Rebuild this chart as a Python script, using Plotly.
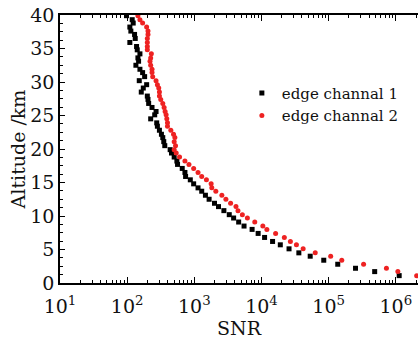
import plotly.graph_objects as go

# Altitude levels (km), top to bottom
altitude_km = [39.9, 39.3, 38.8, 38.2, 37.6, 37.1, 36.5, 35.9, 35.3, 34.8,
               34.2, 33.6, 33.1, 32.5, 31.9, 31.4, 30.8, 30.2, 29.6, 29.1,
               28.5, 27.9, 27.4, 26.8, 26.2, 25.6, 25.1, 24.5, 23.9, 23.4,
               22.8, 22.2, 21.7, 21.1, 20.5, 19.9, 19.4, 18.8, 18.2, 17.7,
               17.1, 16.5, 15.9, 15.4, 14.8, 14.2, 13.7, 13.1, 12.5, 11.9,
               11.4, 10.8, 10.2, 9.7, 9.1, 8.5, 8.0, 7.4, 6.8, 6.2,
               5.7, 5.1, 4.5, 4.0, 3.4, 2.8, 2.2, 1.7, 1.1]

# log10(SNR)
snr1_log10 = [1.99, 2.075, 2.09, 2.04, 2.055, 2.11, 2.12, 2.04, 2.14, 2.15,
              2.19, 2.16, 2.17, 2.13, 2.19, 2.23, 2.26, 2.18, 2.29, 2.24,
              2.21, 2.30, 2.31, 2.32, 2.37, 2.43, 2.41, 2.35, 2.44, 2.45,
              2.48, 2.51, 2.53, 2.545, 2.56, 2.64, 2.66, 2.70, 2.74, 2.75,
              2.82, 2.86, 2.87, 2.94, 2.99, 3.055, 3.11, 3.165, 3.22, 3.30,
              3.36, 3.44, 3.52, 3.585, 3.66, 3.74, 3.86, 3.95, 4.046, 4.165,
              4.28, 4.41, 4.556, 4.725, 4.927, 5.135, 5.40, 5.685, 6.05]

snr2_log10 = [2.16, 2.19, 2.23, 2.29, 2.31, 2.31, 2.30, 2.30, 2.30, 2.30,
              2.36, 2.35, 2.34, 2.35, 2.37, 2.37, 2.38, 2.43, 2.45, 2.47,
              2.48, 2.48, 2.50, 2.53, 2.55, 2.565, 2.58, 2.59, 2.60, 2.60,
              2.65, 2.69, 2.71, 2.70, 2.72, 2.70, 2.73, 2.78, 2.86, 2.92,
              2.99, 3.055, 3.11, 3.18, 3.25, 3.26, 3.32, 3.41, 3.47, 3.54,
              3.62, 3.65, 3.715, 3.79, 3.90, 4.02, 4.08, 4.21, 4.34, 4.43,
              4.52, 4.62, 4.80, 5.03, 5.195, 5.52, 5.86, 6.03, 6.31]

snr_ch1 = [10 ** v for v in snr1_log10]
snr_ch2 = [10 ** v for v in snr2_log10]

series_names = ["edge channal 1", "edge channal 2"]

x_tick_exps = [1, 2, 3, 4, 5, 6]
x_tick_vals = [10 ** e for e in x_tick_exps]
x_tick_text = ["10<sup>%d</sup>" % e for e in x_tick_exps]
y_tick_vals = [0, 5, 10, 15, 20, 25, 30, 35, 40]

FONT = "DejaVu Serif"

fig = go.Figure()
fig.add_trace(go.Scatter(x=snr_ch1, y=altitude_km, mode="markers", name=series_names[0],
                         marker=dict(symbol="square", size=5, color="#000000")))
fig.add_trace(go.Scatter(x=snr_ch2, y=altitude_km, mode="markers", name=series_names[1],
                         marker=dict(symbol="circle", size=5, color="#ee2222")))

fig.update_layout(
    width=418, height=341,
    margin=dict(l=60, r=0, t=15, b=58),
    paper_bgcolor="white", plot_bgcolor="white",
    font=dict(family=FONT, size=19, color="#111111"),
    showlegend=True,
    legend=dict(x=0.508, y=0.77, xanchor="left", yanchor="top",
                bgcolor="rgba(0,0,0,0)", font=dict(size=15, family=FONT),
                itemwidth=30, tracegroupgap=0),
    xaxis=dict(type="log", range=[1, 6.33], tickvals=x_tick_vals, ticktext=x_tick_text,
               showgrid=False, zeroline=False,
               showline=True, linecolor="#000000", linewidth=1.5, mirror="ticks",
               ticks="inside", ticklen=6, tickcolor="#000000", ticklabelstandoff=5,
               minor=dict(dtick="D1", ticks="inside", ticklen=3, tickcolor="#000000", showgrid=False),
               title=dict(text="SNR", font=dict(size=19, family=FONT), standoff=0),
               tickfont=dict(size=19, family=FONT)),
    yaxis=dict(range=[0, 40], tickvals=y_tick_vals, showgrid=False, zeroline=False,
               showline=True, linecolor="#000000", linewidth=1.5,
               ticks="inside", ticklen=5, tickcolor="#000000",
               minor=dict(dtick=1.25, ticks="inside", ticklen=3, tickcolor="#000000", showgrid=False),
               title=dict(text="Altitude /km", font=dict(size=19, family=FONT), standoff=0),
               tickfont=dict(size=19, family=FONT)),
)

fig.write_html("out.html")
